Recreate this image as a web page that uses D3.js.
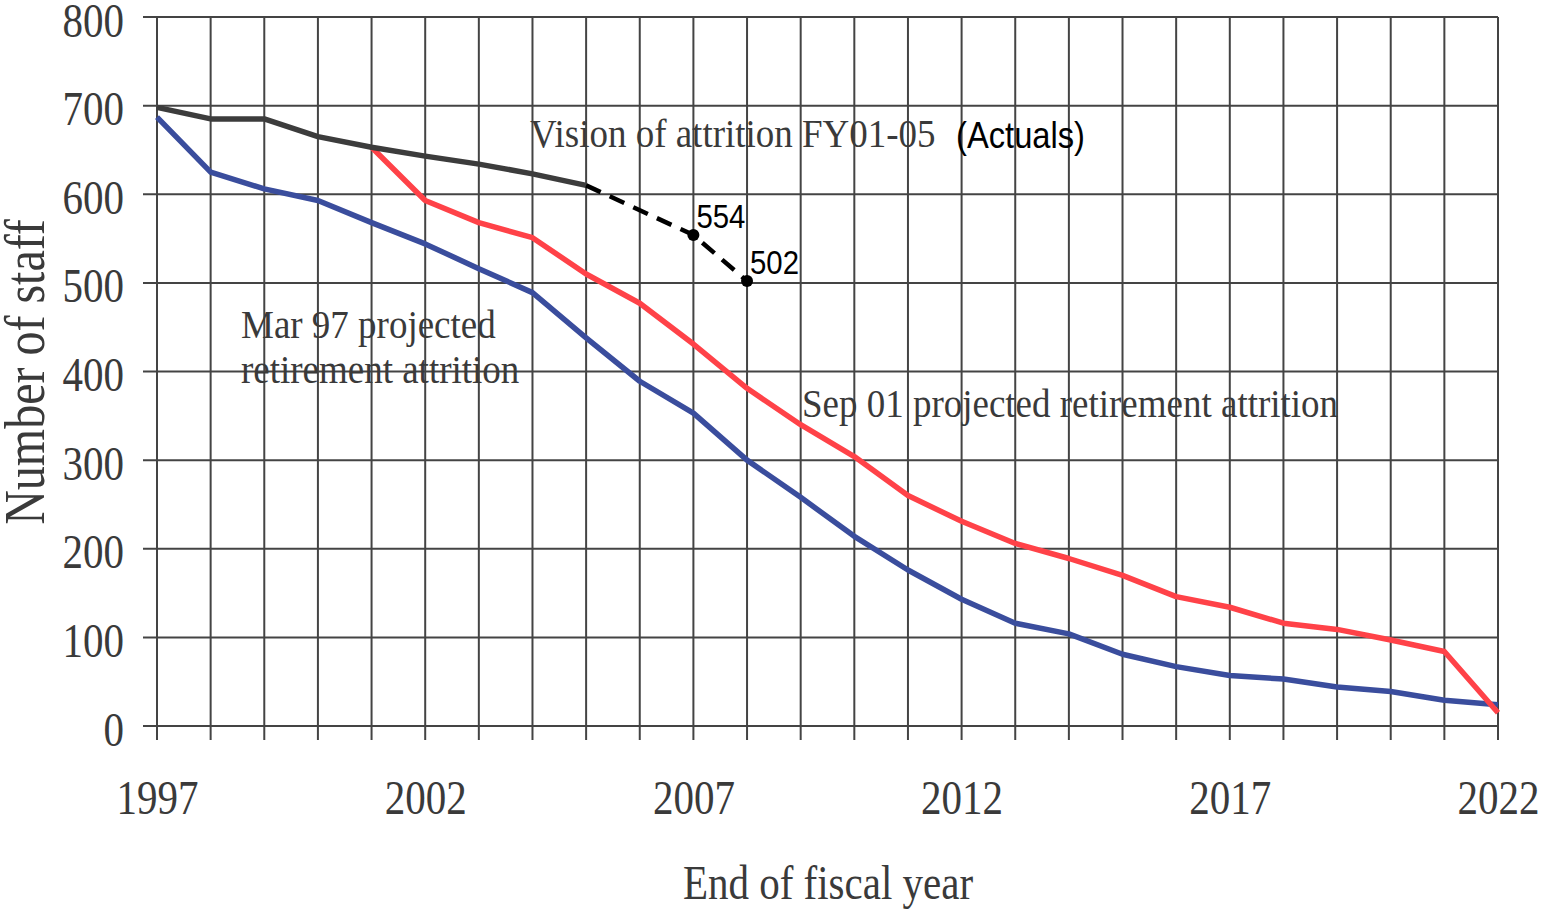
<!DOCTYPE html>
<html>
<head>
<meta charset="utf-8">
<script src="https://cdn.jsdelivr.net/npm/d3@7"></script>
<style>
  html, body { margin: 0; padding: 0; background: #fff; overflow: hidden; }
  svg { display: block; }
  svg text { font-family: "Liberation Serif", "Times New Roman", serif; fill: #3a3a3a; }
  .narrow { font-family: "Liberation Sans", Arial, sans-serif; fill: #000; }
</style>
</head>
<body>
<div id="chart"></div>
<script>
// Years on the x axis
const years = [1997, 1998, 1999, 2000, 2001, 2002, 2003, 2004, 2005, 2006, 2007, 2008, 2009,
  2010, 2011, 2012, 2013, 2014, 2015, 2016, 2017, 2018, 2019, 2020, 2021, 2022];
const yearLabels = [1997, 2002, 2007, 2012, 2017, 2022];
const staffTicks = [0, 100, 200, 300, 400, 500, 600, 700, 800];

// Mar 97 projected retirement attrition (blue)
const mar97 = [687, 625, 606, 593, 568, 544, 516, 489, 438, 389, 353, 300, 258, 214, 176,
  143, 116, 104, 81, 67, 57, 53, 44, 39, 29, 24];

// Sep 01 projected retirement attrition (red), 2001 onwards
const sep01Years = [2001, 2002, 2003, 2004, 2005, 2006, 2007, 2008, 2009, 2010, 2011,
  2012, 2013, 2014, 2015, 2016, 2017, 2018, 2019, 2020, 2021, 2022];
const sep01 = [653, 593, 568, 551, 510, 477, 431, 381, 340, 304, 260, 231, 206, 189, 170,
  146, 134, 116, 109, 97, 84, 15];

// Vision of attrition (actuals, solid) 1997-2005
const visionYears = [1997, 1998, 1999, 2000, 2001, 2002, 2003, 2004, 2005];
const vision = [698, 685, 685, 665, 653, 643, 634, 623, 610];

// Dashed continuation with marked points
const actualYears = [2005, 2007, 2008];
const actuals = [610, 554, 502];

const width = 1542;
const height = 912;
const margin = { top: 17, right: 44, bottom: 186, left: 157 };
const innerWidth = width - margin.left - margin.right;
const innerHeight = height - margin.top - margin.bottom;
const stretch = 1.17; // the scanned serif type is a bit taller than normal

const svg = d3.select('#chart')
  .append('svg')
  .attr('width', width)
  .attr('height', height);

const g = svg.append('g')
  .attr('transform', `translate(${margin.left},${margin.top})`);

const x = d3.scaleLinear().domain([1997, 2022]).range([0, innerWidth]);
const y = d3.scaleLinear().domain([0, 800]).range([innerHeight, 0]);

// serif label with a slight vertical stretch (page coords)
function label(px, py, txt, size, s = stretch, anchor = 'start') {
  return svg.append('text')
    .attr('transform', `translate(${px},${py}) scale(1,${s})`)
    .attr('text-anchor', anchor)
    .attr('font-size', size)
    .text(txt);
}

// text annotations sit under the grid
label(530, 147, 'Vision of attrition FY01-05', 37, 1.1);
label(241, 338, 'Mar 97 projected', 37, 1.1);
label(241, 383, 'retirement attrition', 37, 1.1);
label(802, 417, 'Sep 01 projected retirement attrition', 37, 1.1);

// gridlines
g.append('g')
  .selectAll('line')
  .data(years)
  .join('line')
  .attr('x1', d => x(d)).attr('x2', d => x(d))
  .attr('y1', 0).attr('y2', innerHeight + 14)
  .attr('stroke', '#444')
  .attr('stroke-width', 2);

g.append('g')
  .selectAll('line')
  .data(staffTicks)
  .join('line')
  .attr('x1', -14).attr('x2', innerWidth)
  .attr('y1', d => y(d)).attr('y2', d => y(d))
  .attr('stroke', '#444')
  .attr('stroke-width', 2);

// axes labels
const yAxis = d3.axisLeft(y).tickValues(staffTicks).tickSize(0).tickPadding(33);
g.append('g').call(yAxis)
  .call(a => a.select('.domain').remove())
  .selectAll('text')
  .attr('font-size', 41)
  .attr('fill', '#3a3a3a')
  .attr('font-family', '"Liberation Serif", serif')
  .attr('dy', 0)
  .attr('y', 19 / stretch)
  .attr('transform', `scale(1,${stretch})`);

const xAxis = d3.axisBottom(x).tickValues(yearLabels).tickFormat(d3.format('d')).tickSize(0);
g.append('g')
  .attr('transform', `translate(0,${innerHeight})`)
  .call(xAxis)
  .call(a => a.select('.domain').remove())
  .selectAll('text')
  .attr('font-size', 41)
  .attr('fill', '#3a3a3a')
  .attr('font-family', '"Liberation Serif", serif')
  .attr('dy', 0)
  .attr('y', 88 / stretch)
  .attr('transform', `scale(1,${stretch})`);

label(828, 899, 'End of fiscal year', 41, stretch, 'middle');

svg.append('text')
  .attr('transform', `translate(44,372) rotate(-90) scale(1,${stretch})`)
  .attr('text-anchor', 'middle')
  .attr('font-size', 48)
  .text('Number of staff');

// series lines
const line = d3.line().x(d => x(d[0])).y(d => y(d[1]));

g.append('path')
  .datum(d3.zip(years, mar97))
  .attr('d', line)
  .attr('fill', 'none')
  .attr('stroke', '#3a4d9d')
  .attr('stroke-width', 5.5)
  .attr('stroke-linejoin', 'round');

g.append('path')
  .datum(d3.zip(sep01Years, sep01))
  .attr('d', line)
  .attr('fill', 'none')
  .attr('stroke', '#ff4248')
  .attr('stroke-width', 5.5)
  .attr('stroke-linejoin', 'round');

g.append('path')
  .datum(d3.zip(visionYears, vision))
  .attr('d', line)
  .attr('fill', 'none')
  .attr('stroke', '#3c3c3c')
  .attr('stroke-width', 5.5)
  .attr('stroke-linejoin', 'round');

g.append('path')
  .datum(d3.zip(actualYears, actuals))
  .attr('d', line)
  .attr('fill', 'none')
  .attr('stroke', '#000')
  .attr('stroke-width', 4.5)
  .attr('stroke-dasharray', '16,10');

const pts = d3.zip(actualYears, actuals).slice(1);
g.selectAll('circle.pt')
  .data(pts)
  .join('circle')
  .attr('class', 'pt')
  .attr('cx', d => x(d[0]))
  .attr('cy', d => y(d[1]))
  .attr('r', 6)
  .attr('fill', '#000');

g.selectAll('text.val')
  .data(pts)
  .join('text')
  .attr('class', 'val narrow')
  .attr('x', d => x(d[0]) + 3)
  .attr('y', d => y(d[1]) - 7)
  .attr('font-size', 34)
  .attr('textLength', 49)
  .attr('lengthAdjust', 'spacingAndGlyphs')
  .text(d => d[1]);

svg.append('text')
  .attr('class', 'narrow')
  .attr('x', 956).attr('y', 148)
  .attr('font-size', 36)
  .attr('textLength', 129)
  .attr('lengthAdjust', 'spacingAndGlyphs')
  .text('(Actuals)');
</script>
</body>
</html>
